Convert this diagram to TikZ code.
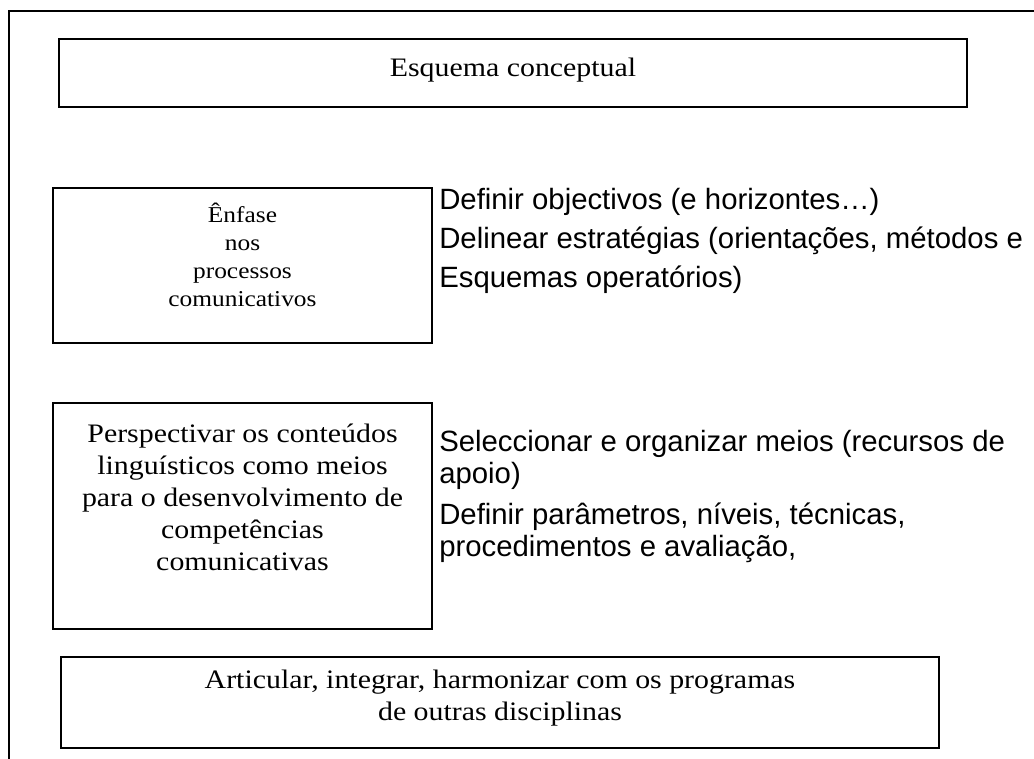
\documentclass[tikz,border=0pt]{standalone}
\usepackage{fontspec}
\setmainfont{Liberation Serif}[FakeStretch=1.12]
\newfontfamily\sidefont{Liberation Sans}
\usetikzlibrary{positioning}

\tikzset{
  box/.style={draw,line width=1pt},
  frame/.style={draw,line width=1.5pt},
  boxtext/.style={font=\fontsize{20}{24}\selectfont,align=center,inner sep=0pt,anchor=base},
  smalltext/.style={font=\fontsize{17}{21}\selectfont,align=center,inner sep=0pt,anchor=base},
  sidetext/.style={font=\sidefont\fontsize{22}{24}\selectfont,align=left,inner sep=0pt,anchor=base west}
}

\begin{document}
\begin{tikzpicture}[x=0.75pt,y=-0.75pt]
	 \useasboundingbox(0,0)rectangle(1034,759);
	 \clip(0,0)rectangle(1034,759);
	 % outer frame, only top and left edges inside the page
	 \draw[frame](9,770)--(9,11)--(1045,11);
	 % boxes
	 \draw[box](59,39)rectangle(967,107);
	 \draw[box](53,188)rectangle(432,343);
	 \draw[box](53,403)rectangle(432,629);
	 \draw[box](61,657)rectangle(939,748);
	 % base of a node with several lines = baseline of its last line
	 \node[boxtext](esquema)at(513,77){Esquema conceptual};
	 \node[smalltext](enfase)at(242.5,306){Ênfase\\nos\\processos\\comunicativos};
	 \node[boxtext](persp)at(242.5,570){Perspectivar os conteúdos\\linguísticos como meios\\para o desenvolvimento de\\competências\\comunicativas};
	 \node[boxtext](articular)at(500,720){Articular, integrar, harmonizar com os programas\\de outras disciplinas};
	 % texts beside the boxes
	 \node[sidetext](objectivos)at(439,210){Definir objectivos (e horizontes…)};
	 \node[sidetext](estrategias)at(439,248){Delinear estratégias (orientações, métodos e};
	 \node[sidetext](esquemas)at(439,287){Esquemas operatórios)};
	 \node[sidetext](meios)at(439,483){Seleccionar e organizar meios (recursos de\\apoio)};
	 \node[sidetext](parametros)at(439,556){Definir parâmetros, níveis, técnicas,\\procedimentos e avaliação,};
\end{tikzpicture}
\end{document}
